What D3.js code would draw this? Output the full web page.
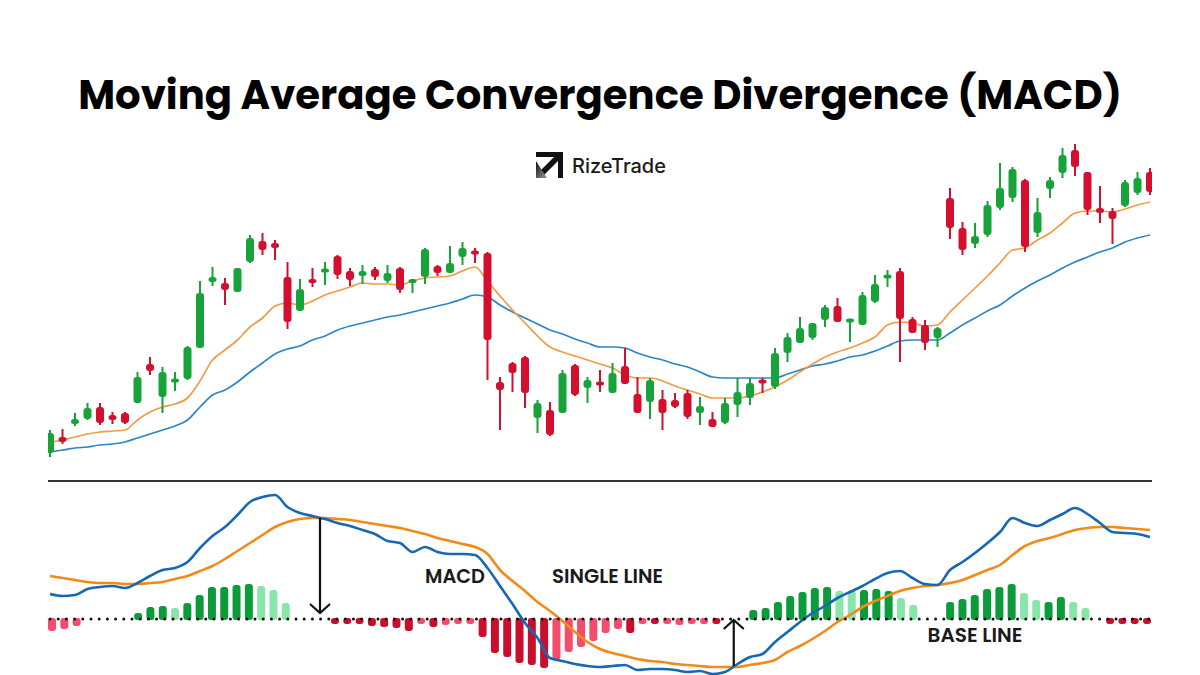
<!DOCTYPE html>
<html>
<head>
<meta charset="utf-8">
<script src="https://cdn.jsdelivr.net/npm/d3@7"></script>
<style>
  body { margin: 0; background: #fff; overflow: hidden; }
</style>
</head>
<body>
<script>
// ---------- price candles (one per session) ----------
const opens  = [13.5,21.5,28,30.5,36.5,32.5,33.5,38.5,58,41.5,48.5,50.5,66,99,98.5,94,109,119.5,118.5,101.5,
                84.5,100.5,104,112,104.5,102,105.5,99.5,106,98.5,101.5,107,103.5,111.5,114,113.5,49,58.5,61.5,31,
                35,33.5,57.5,46,48.5,43.5,57,43,39,40.5,40,43.5,33.5,30.5,28.5,37.5,41,49.5,46.5,63.5,
                68.5,71,80,87,78.5,77.5,89,101,104.5,80.5,77.5,71,141,126,118,122.5,136,141,150,123.5,
                145.5,153.5,165,154,136,134.5,137,143.5,154];
const highs  = [25,25.5,33.5,38.5,38.5,34,34,54,61.5,56.5,54,67,99.5,106.5,101,106,122.5,123.5,120,109,
                100.5,106,109,112.5,106,107.5,106.5,107.5,106.5,100.5,116,107.5,117,119,116,114,51.5,59,62,40,
                39,55,58,51.5,55,58.5,66,51.5,51,45,43.5,45,41.5,34,41,51,51,51,66,73.5,
                81.5,78.5,87.5,91,80,94,102.5,105,106,81.5,80,76.5,146,129,128.5,139.5,158.5,156.5,150.5,141,
                151.5,166,168,154,147,136,150,154,156];
const lows   = [11.5,18,27,30,27.5,28,28,38.5,52.5,33.5,44.5,50,66,97,87.5,94,108.5,112.5,110,75.5,
                84.5,96.5,97.5,100.5,97,98,100,98.5,93.5,93.5,98,102,103.5,107.5,108.5,50,25,44,36,23.5,
                22,33.5,42,38.5,44,43.5,48,33.5,30.5,25,36,30.5,27.5,26.5,28,31.5,37.5,43.5,45.5,59,
                68.5,70,76.5,79,69,77.5,88.5,96.5,59,73.5,65,66.5,120.5,112.5,116,121.5,135,139,114,121.5,
                141,151,152,132.5,128.5,118,136.5,142.5,142.5];
const closes = [23.5,19,30.5,36,28.5,30,28.5,51.5,54.5,54,50,66.5,93.5,101.5,95,106,121,115,116,79,
                95.5,98.5,105,102.5,100,104.5,101.5,103.5,95,100.5,115.5,103.5,108.5,116,112,70,45,53.5,43.5,38.5,
                22.5,53.5,42.5,50,47.5,53.5,48,33.5,50,33.5,36.5,31.5,37,26.5,38.5,44,48.5,48.5,63.5,71.5,
                76,78.5,86.5,79,80,92.5,98,102,80.5,73.5,68.5,76,126,115,122,137.5,146,155.5,116.5,134,
                150,162.5,156.5,135,133.5,130.5,149,151,144];

// moving averages over the candles
const fastEma = [19,20,21.5,23,24,24.5,25,30,34,36.5,38,41,49.5,60,65,70,76.5,81,87,88.5,
                 87.5,89.5,92.5,94.5,96.5,98.5,98,98,97.5,99.5,101,101.5,102,104.5,106.5,99.5,92,85,78.5,72,
                 66.5,64,62,60,58,56,52.5,51,51,49.5,47,45,43,41,41,41,42,44,46.5,50,
                 54,58,61.5,64,66,68.5,71.5,77.5,79,78.5,77,77.5,84,90,96,102,108.5,115,116,120,
                 123.5,128.5,133.5,134.5,134.5,134,135.5,137.5,139];
const slowEma = [14,15,16,16.5,17.5,18,19,21,23,25,27,30,36.5,42.5,45,49,54,58.5,63,65.5,
                 67,70,72,75,77,78.5,80,81.5,82.5,84,85.5,87,88.5,90.5,92.5,91.5,87.5,84,81,78,
                 75,73,70.5,68.5,66.5,66.5,66,63.5,61.5,60,58,56.5,54,51.5,51,51,51,51,51,53,
                 55,57,58,59.5,61.5,62.5,64.5,67,69.5,70,70,70,73.5,77.5,81,84.5,87.5,92,96,99.5,
                 102.5,106,109,111.5,114,116,119,121,122.5];

// ---------- MACD panel ----------
const macdLine   = [2.5,2.3,2.4,3.0,3.2,3.3,3.1,3.6,4.3,4.9,5.1,5.7,7.1,8.3,9.2,10.4,11.7,12.2,12.4,11.2,
                    10.6,10.3,10.0,9.6,9.3,8.9,8.5,7.8,7.6,6.7,7.2,6.7,6.5,6.5,6.4,5.1,3.3,1.5,-0.4,-1.9,
                    -3.9,-4.2,-4.5,-4.7,-4.8,-4.7,-4.6,-5.1,-5.0,-5.0,-5.1,-5.3,-5.2,-5.5,-5.3,-4.5,-3.8,-3.5,-2.3,-1.3,
                    -0.3,0.6,1.3,2.1,2.7,3.3,4.0,4.6,4.8,4.1,3.5,3.4,4.9,5.7,6.6,7.6,8.7,10.1,9.6,9.3,
                    9.9,10.5,11.1,10.5,9.6,8.7,8.6,8.5,8.2];
const signalLine = [4.3,4.1,3.9,3.7,3.6,3.6,3.5,3.5,3.6,3.7,4.0,4.3,4.8,5.3,6.0,6.8,7.6,8.4,9.2,9.7,
                    10.0,10.1,10.1,10.0,9.9,9.7,9.5,9.3,9.1,8.8,8.5,8.1,7.8,7.5,7.2,6.5,4.9,3.8,2.8,1.7,
                    0.8,-0.2,-1.3,-2.3,-3.0,-3.4,-3.7,-4.0,-4.2,-4.3,-4.5,-4.6,-4.7,-4.8,-4.8,-4.8,-4.6,-4.4,-4.1,-3.3,
                    -2.7,-2.0,-1.2,-0.3,0.4,1.2,1.8,2.3,2.8,3.1,3.3,3.4,3.6,3.9,4.4,4.9,5.4,6.4,7.3,7.8,
                    8.1,8.5,8.9,9.1,9.2,9.2,9.1,9.0,8.9];

// histogram bars and their shade ("d" = momentum growing, "l" = fading)
const histValues = [-1.2,-1.0,-0.7,0,0,0,0,0.6,1.2,1.3,1.1,1.6,2.4,3.2,3.2,3.4,3.5,3.3,2.9,1.6,
                    0,0,0,-0.1,-0.3,-0.5,-0.7,-0.8,-0.9,-1.2,-0.4,-0.8,-0.6,-0.4,-0.5,-1.8,-3.4,-3.8,-4.4,-4.6,
                    -4.9,-4.1,-3.3,-2.8,-2.2,-1.4,-1.0,-1.4,-0.3,-0.3,-0.2,-0.6,-0.4,-0.1,-0.1,0,0,0.9,1.1,1.7,
                    2.3,2.7,3.1,3.2,2.8,2.9,2.9,3.0,2.8,2.1,1.4,0,0,1.7,2.0,2.4,3.0,3.2,3.5,2.6,
                    1.9,1.7,2.2,1.7,1.1,0,-0.3,-0.3,-0.3,-0.3];
const histTone   = ["l","l","l","","","","","d","d","d","l","d","d","d","d","d","d","l","l","l",
                    "","","","d","d","d","d","d","d","d","l","d","l","l","l","d","d","d","d","d",
                    "d","l","l","l","l","l","l","d","l","d","l","l","l","l","d","","","d","d","d",
                    "d","d","d","d","l","l","d","d","d","l","l","","","d","d","d","d","d","d","l",
                    "l","d","d","l","l","","d","d","d","d"];

// annotations: [index, from, to] in MACD units
const arrows = [
    {idx: 21.6, from: 10.1, to: 0.6},
    {idx: 54.7, from: -4.7, to: -0.1}
];
const labels = [
    {text: "MACD",        idx: 32.4, value: 3.6,  span: 60},
    {text: "SINGLE LINE", idx: 44.6, value: 3.6,  span: 111},
    {text: "BASE LINE",   idx: 74.0, value: -2.3, span: 95}
];

const title = "Moving Average Convergence Divergence (MACD)";

const colors = {
    up: "#17a23a", down: "#d30f2d",
    fast: "#f39a45", slow: "#2a86c8",
    macd: "#1668b5", signal: "#f28a1a",
    upDark: "#0b9b3a", upLight: "#88e6a8",
    downDark: "#c70f2d", downLight: "#f24d6c"
};

const width = 1200, height = 675;
const left = 48, right = 1152;

const svg = d3.select("body").append("svg")
    .attr("width", width)
    .attr("height", height);

const defs = svg.append("defs");
defs.append("clipPath").attr("id", "clipTop")
    .append("rect").attr("x", left).attr("y", 130).attr("width", right - left).attr("height", 345);
defs.append("clipPath").attr("id", "clipBottom")
    .append("rect").attr("x", left).attr("y", 484).attr("width", right - left).attr("height", 191);

// scales
const x = d3.scaleLinear().domain([0, opens.length - 1]).range([50, 1150]);
const xh = d3.scaleLinear().domain([0, histValues.length - 1]).range([52, 1147]);
const yPrice = d3.scaleLinear().domain([0, 170]).range([480, 140]);
const yMacd = d3.scaleLinear().domain([-6, 14]).range([679, 479]);

function fitWidth(sel, target) {
    const w = sel.node().getComputedTextLength();
    const fs = parseFloat(sel.attr("font-size"));
    sel.attr("font-size", fs * target / w);
}

//////////// TITLE + LOGO ////////////
const titleText = svg.append("text")
    .attr("x", width / 2)
    .attr("y", 109)
    .attr("text-anchor", "middle")
    .attr("font-family", "Poppins, 'Open Sans', sans-serif")
    .attr("font-weight", 700)
    .attr("font-size", 42)
    .attr("fill", "#000")
    .text(title);
fitWidth(titleText, 1044);

const grad = defs.append("linearGradient").attr("id", "logoGrad")
    .attr("x1", "0").attr("y1", "0").attr("x2", "1").attr("y2", "1");
grad.append("stop").attr("offset", "0").attr("stop-color", "#111");
grad.append("stop").attr("offset", "1").attr("stop-color", "#9a9a9a");

const logo = svg.append("g").attr("transform", "translate(536,152)");
logo.append("path")
    .attr("d", "M0,0 H27 V26 H22 V9 L5,26 L1,22 L18,5 H0 Z")
    .attr("fill", "#111");
logo.append("path")
    .attr("d", "M0,9 L0,26 L11,26 Z")
    .attr("fill", "url(#logoGrad)");
const logoText = svg.append("text")
    .attr("x", 572)
    .attr("y", 173)
    .attr("font-family", "Inter, 'Open Sans', sans-serif")
    .attr("font-weight", 500)
    .attr("font-size", 19)
    .attr("fill", "#1a1a1a")
    .text("RizeTrade");
fitWidth(logoText, 94);

//////////// PRICE PANEL ////////////
const pricePanel = svg.append("g").attr("clip-path", "url(#clipTop)");

const lineTop = (arr) => d3.line()
    .x((d, i) => x(i))
    .y(d => yPrice(d))
    .curve(d3.curveMonotoneX)(arr);

pricePanel.append("path")
    .attr("d", lineTop(slowEma))
    .attr("fill", "none")
    .attr("stroke", colors.slow)
    .attr("stroke-width", 1.7);
pricePanel.append("path")
    .attr("d", lineTop(fastEma))
    .attr("fill", "none")
    .attr("stroke", colors.fast)
    .attr("stroke-width", 1.7);

const candles = opens.map((o, i) => ({i: i, o: o, h: highs[i], l: lows[i], c: closes[i]}));

const candle = pricePanel.append("g").selectAll("g")
    .data(candles)
    .join("g")
    .attr("fill", d => d.c >= d.o ? colors.up : colors.down)
    .attr("stroke", "none");

candle.append("rect")
    .attr("x", d => x(d.i) - 1)
    .attr("width", 2)
    .attr("y", d => yPrice(d.h))
    .attr("height", d => Math.max(1, yPrice(d.l) - yPrice(d.h)));

candle.append("rect")
    .attr("x", d => x(d.i) - 4)
    .attr("width", 8)
    .attr("rx", 3)
    .attr("y", d => Math.min(yPrice(d.o), yPrice(d.c)) - (Math.abs(yPrice(d.o) - yPrice(d.c)) < 4 ? 1.5 : 0))
    .attr("height", d => Math.max(4, Math.abs(yPrice(d.o) - yPrice(d.c))));

// separator
svg.append("line")
    .attr("x1", left).attr("x2", right)
    .attr("y1", 481).attr("y2", 481)
    .attr("stroke", "#333")
    .attr("stroke-width", 2);

//////////// MACD PANEL ////////////
const macdPanel = svg.append("g").attr("clip-path", "url(#clipBottom)");
const zero = yMacd(0);

macdPanel.append("g").selectAll("rect")
    .data(histValues.map((v, i) => ({i: i, v: v, t: histTone[i]})).filter(d => d.v !== 0))
    .join("rect")
    .attr("x", d => xh(d.i) - 4)
    .attr("width", 8)
    .attr("rx", 3)
    .attr("y", d => d.v > 0 ? yMacd(d.v) : zero - 1)
    .attr("height", d => d.v > 0 ? Math.max(4, zero - yMacd(d.v) + 1) : Math.max(6, yMacd(d.v) - zero + 1))
    .attr("fill", d => d.v > 0
        ? (d.t === "d" ? colors.upDark : colors.upLight)
        : (d.t === "d" ? colors.downDark : colors.downLight));

const lineBottom = (arr) => d3.line()
    .x((d, i) => x(i))
    .y(d => yMacd(d))
    .curve(d3.curveMonotoneX)(arr);

macdPanel.append("path")
    .attr("d", lineBottom(signalLine))
    .attr("fill", "none")
    .attr("stroke", colors.signal)
    .attr("stroke-width", 2.6);
macdPanel.append("path")
    .attr("d", lineBottom(macdLine))
    .attr("fill", "none")
    .attr("stroke", colors.macd)
    .attr("stroke-width", 2.6);

// dotted base line
svg.append("line")
    .attr("x1", left + 2).attr("x2", right)
    .attr("y1", zero).attr("y2", zero)
    .attr("stroke", "#111")
    .attr("stroke-width", 3)
    .attr("stroke-linecap", "round")
    .attr("stroke-dasharray", "0,8.2");

// arrows
arrows.forEach(a => {
    const ax = x(a.idx);
    const y1 = yMacd(a.from), y2 = yMacd(a.to);
    const dir = y2 > y1 ? 1 : -1;
    svg.append("line")
        .attr("x1", ax).attr("x2", ax)
        .attr("y1", y1).attr("y2", y2)
        .attr("stroke", "#111")
        .attr("stroke-width", 2.2);
    svg.append("path")
        .attr("d", `M${ax - 10},${y2 - dir * 9} L${ax},${y2} L${ax + 10},${y2 - dir * 9}`)
        .attr("fill", "none")
        .attr("stroke", "#111")
        .attr("stroke-width", 2.2);
});

// labels
labels.forEach(l => {
    const t = svg.append("text")
        .attr("x", x(l.idx))
        .attr("y", yMacd(l.value))
        .attr("text-anchor", "middle")
        .attr("font-family", "Poppins, 'Open Sans', sans-serif")
        .attr("font-weight", 600)
        .attr("font-size", 17)
        .attr("fill", "#1a1a1a")
        .text(l.text);
    fitWidth(t, l.span);
});
</script>
</body>
</html>
